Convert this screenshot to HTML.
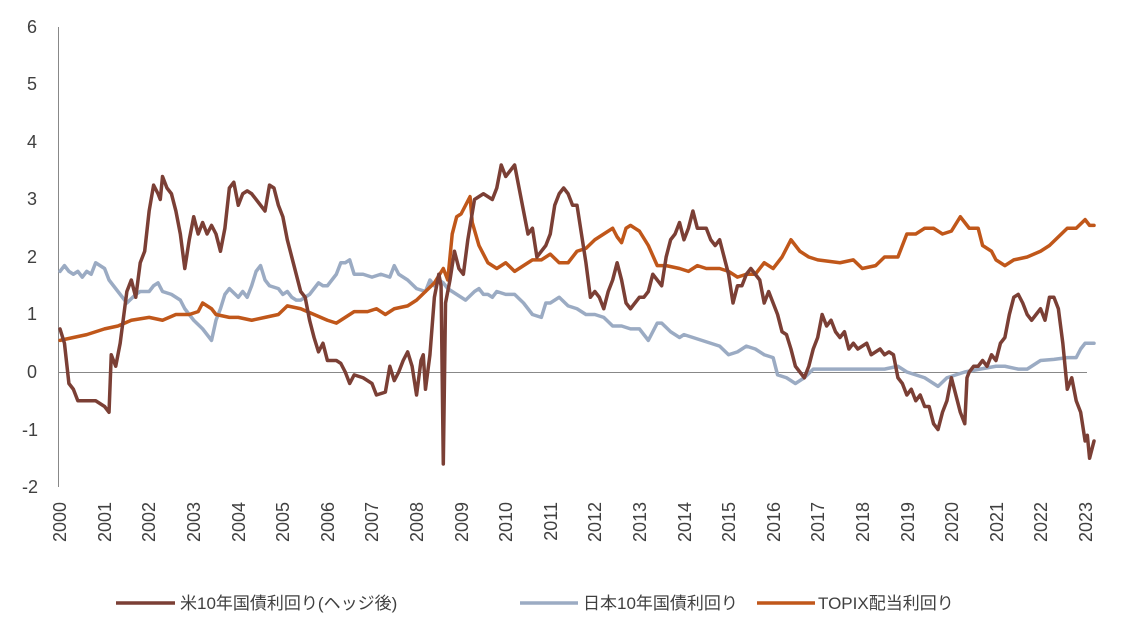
<!DOCTYPE html>
<html><head><meta charset="utf-8"><style>
html,body{margin:0;padding:0;background:#fff;}
svg{display:block;font-family:"Liberation Sans","Noto Sans CJK JP",sans-serif;}
</style></head><body>
<svg width="1123" height="627" viewBox="0 0 1123 627" xmlns="http://www.w3.org/2000/svg">
<g fill="#404040" font-size="18" text-anchor="middle">
<text x="32" y="33">6</text><text x="32" y="90">5</text><text x="32" y="148">4</text>
<text x="32" y="205">3</text><text x="32" y="263">2</text><text x="32" y="320">1</text>
<text x="32" y="378">0</text><text x="30" y="436">-1</text><text x="30" y="493">-2</text>
</g>
<line x1="58.5" y1="27" x2="58.5" y2="487" stroke="#888" stroke-width="1"/>
<line x1="58" y1="372.5" x2="1087" y2="372.5" stroke="#888" stroke-width="1"/>
<g transform="translate(60,372) scale(44.57,-57.5)" fill="none" stroke-linejoin="round" stroke-linecap="round">
<polyline vector-effect="non-scaling-stroke" stroke="#9BABC3" stroke-width="3.5" points="0 1.75,0.1 1.85,0.2 1.75,0.3 1.7,0.4 1.75,0.5 1.65,0.6 1.75,0.7 1.7,0.8 1.9,1.0 1.8,1.1 1.6,1.2 1.5,1.3 1.4,1.4 1.3,1.5 1.2,1.7 1.35,1.8 1.4,1.9 1.4,2.0 1.4,2.1 1.5,2.2 1.55,2.3 1.4,2.5 1.35,2.6 1.3,2.7 1.25,2.8 1.1,3.0 0.9,3.2 0.75,3.3 0.65,3.4 0.55,3.5 0.9,3.6 1.1,3.7 1.35,3.8 1.45,4.0 1.3,4.1 1.4,4.2 1.3,4.3 1.5,4.4 1.75,4.5 1.85,4.6 1.6,4.7 1.5,4.9 1.45,5.0 1.35,5.1 1.4,5.2 1.3,5.3 1.25,5.4 1.25,5.5 1.3,5.6 1.35,5.7 1.45,5.8 1.55,5.9 1.5,6.0 1.5,6.2 1.7,6.3 1.9,6.4 1.9,6.5 1.95,6.6 1.7,6.8 1.7,7.0 1.65,7.2 1.7,7.4 1.65,7.5 1.85,7.6 1.7,7.8 1.6,8.0 1.45,8.2 1.4,8.3 1.6,8.4 1.5,8.5 1.6,8.6 1.55,8.7 1.45,8.9 1.35,9.0 1.3,9.1 1.25,9.3 1.4,9.4 1.45,9.5 1.35,9.6 1.35,9.7 1.3,9.8 1.4,10.0 1.35,10.2 1.35,10.4 1.2,10.6 1.0,10.8 0.95,10.9 1.2,11.0 1.2,11.2 1.3,11.4 1.15,11.6 1.1,11.8 1.0,12.0 1.0,12.2 0.95,12.4 0.8,12.6 0.8,12.8 0.75,13.0 0.75,13.2 0.55,13.4 0.85,13.5 0.85,13.7 0.7,13.9 0.6,14.0 0.65,14.2 0.6,14.4 0.55,14.6 0.5,14.8 0.45,15.0 0.3,15.2 0.35,15.4 0.45,15.6 0.4,15.8 0.3,16.0 0.25,16.1 -0.05,16.3 -0.1,16.5 -0.2,16.7 -0.1,16.9 0.05,17.2 0.05,17.5 0.05,18.0 0.05,18.5 0.05,18.8 0.1,19.0 0.0,19.2 -0.05,19.4 -0.1,19.6 -0.2,19.7 -0.25,19.9 -0.1,20.1 -0.05,20.3 0.0,20.5 0.03,21.0 0.1,21.2 0.1,21.5 0.05,21.7 0.05,22.0 0.2,22.3 0.22,22.6 0.25,22.8 0.25,22.9 0.4,23.0 0.5,23.2 0.5"/>
<polyline vector-effect="non-scaling-stroke" stroke="#C0571A" stroke-width="3.5" points="0 0.55,0.3 0.6,0.6 0.65,1.0 0.75,1.3 0.8,1.6 0.9,2.0 0.95,2.3 0.9,2.6 1.0,2.9 1.0,3.1 1.05,3.2 1.2,3.4 1.1,3.5 1.0,3.8 0.95,4.0 0.95,4.3 0.9,4.6 0.95,4.9 1.0,5.1 1.15,5.4 1.1,5.7 1.0,6.0 0.9,6.2 0.85,6.4 0.95,6.6 1.05,6.9 1.05,7.1 1.1,7.3 1.0,7.5 1.1,7.8 1.15,8.0 1.25,8.2 1.4,8.4 1.55,8.6 1.8,8.7 1.6,8.8 2.4,8.9 2.7,9.0 2.75,9.1 2.9,9.2 3.05,9.25 2.6,9.4 2.2,9.6 1.9,9.8 1.8,10.0 1.9,10.2 1.75,10.4 1.85,10.6 1.95,10.8 1.95,11.0 2.05,11.2 1.9,11.4 1.9,11.6 2.1,11.8 2.15,12.0 2.3,12.2 2.4,12.4 2.5,12.5 2.35,12.6 2.25,12.7 2.5,12.8 2.55,13.0 2.45,13.2 2.2,13.4 1.85,13.6 1.85,13.9 1.8,14.1 1.75,14.3 1.85,14.5 1.8,14.8 1.8,15.0 1.75,15.2 1.65,15.4 1.7,15.6 1.7,15.8 1.9,16.0 1.8,16.2 2.0,16.4 2.3,16.6 2.1,16.8 2.0,17.0 1.95,17.5 1.9,17.8 1.95,18.0 1.8,18.3 1.85,18.5 2.0,18.8 2.0,19.0 2.4,19.2 2.4,19.4 2.5,19.6 2.5,19.8 2.4,20.0 2.45,20.2 2.7,20.4 2.5,20.6 2.5,20.7 2.2,20.9 2.1,21.0 1.95,21.2 1.85,21.4 1.95,21.7 2.0,22.0 2.1,22.2 2.2,22.4 2.35,22.6 2.5,22.8 2.5,23.0 2.65,23.1 2.55,23.2 2.55"/>
<polyline vector-effect="non-scaling-stroke" stroke="#7B3F35" stroke-width="3.5" points="0 0.75,0.1 0.5,0.2 -0.2,0.3 -0.3,0.4 -0.5,0.6 -0.5,0.8 -0.5,1.0 -0.6,1.1 -0.7,1.15 0.3,1.25 0.1,1.35 0.5,1.5 1.4,1.6 1.6,1.7 1.3,1.8 1.9,1.9 2.1,2.0 2.8,2.1 3.25,2.2 3.1,2.25 3.0,2.3 3.4,2.4 3.2,2.5 3.1,2.6 2.8,2.7 2.4,2.8 1.8,2.9 2.3,3.0 2.7,3.1 2.4,3.2 2.6,3.3 2.4,3.4 2.55,3.5 2.4,3.6 2.1,3.7 2.5,3.8 3.2,3.9 3.3,4.0 2.9,4.1 3.1,4.2 3.15,4.3 3.1,4.5 2.9,4.6 2.8,4.7 3.25,4.8 3.2,4.9 2.9,5.0 2.7,5.1 2.3,5.2 2.0,5.3 1.7,5.4 1.4,5.5 1.3,5.6 0.9,5.7 0.6,5.8 0.35,5.9 0.5,6.0 0.2,6.2 0.2,6.3 0.15,6.4 0.0,6.5 -0.2,6.6 -0.05,6.8 -0.1,7.0 -0.2,7.1 -0.4,7.3 -0.35,7.4 0.1,7.5 -0.15,7.6 0.0,7.7 0.2,7.8 0.35,7.9 0.1,8.0 -0.4,8.1 0.2,8.15 0.3,8.2 -0.3,8.3 0.3,8.4 1.3,8.5 1.7,8.55 1.5,8.6 -1.6,8.65 1.2,8.75 1.6,8.85 2.1,8.95 1.8,9.05 1.7,9.15 2.3,9.3 3.0,9.5 3.1,9.7 3.0,9.8 3.2,9.9 3.6,10.0 3.4,10.1 3.5,10.2 3.6,10.3 3.2,10.4 2.8,10.5 2.4,10.6 2.5,10.7 2.0,10.9 2.2,11.0 2.4,11.1 2.9,11.2 3.1,11.3 3.2,11.4 3.1,11.5 2.9,11.6 2.9,11.7 2.4,11.8 1.9,11.9 1.3,12.0 1.4,12.1 1.3,12.2 1.1,12.3 1.4,12.4 1.6,12.5 1.9,12.6 1.6,12.7 1.2,12.8 1.1,12.9 1.2,13.0 1.3,13.1 1.3,13.2 1.4,13.3 1.7,13.4 1.6,13.5 1.5,13.6 2.0,13.7 2.3,13.8 2.4,13.9 2.6,14.0 2.3,14.1 2.5,14.2 2.8,14.3 2.5,14.5 2.5,14.6 2.3,14.7 2.2,14.8 2.3,14.9 2.0,15.0 1.7,15.1 1.2,15.2 1.5,15.3 1.5,15.4 1.7,15.5 1.8,15.6 1.7,15.7 1.6,15.8 1.2,15.9 1.4,16.0 1.2,16.1 1.0,16.2 0.7,16.3 0.65,16.4 0.4,16.5 0.1,16.6 0.0,16.7 -0.1,16.8 0.1,16.9 0.4,17.0 0.6,17.1 1.0,17.2 0.8,17.3 0.9,17.4 0.7,17.5 0.6,17.6 0.7,17.7 0.4,17.8 0.5,17.9 0.4,18.0 0.45,18.1 0.5,18.2 0.3,18.3 0.35,18.4 0.4,18.5 0.3,18.6 0.35,18.7 0.3,18.8 -0.1,18.9 -0.2,19.0 -0.4,19.1 -0.3,19.2 -0.5,19.3 -0.4,19.4 -0.6,19.5 -0.6,19.6 -0.9,19.7 -1.0,19.8 -0.7,19.9 -0.5,20.0 -0.1,20.1 -0.4,20.2 -0.7,20.3 -0.9,20.35 -0.1,20.4 0.0,20.5 0.1,20.6 0.1,20.7 0.2,20.8 0.1,20.9 0.3,21.0 0.2,21.1 0.5,21.2 0.6,21.3 1.0,21.4 1.3,21.5 1.35,21.6 1.2,21.7 1.0,21.8 0.9,21.9 1.0,22.0 1.1,22.1 0.9,22.2 1.3,22.3 1.3,22.4 1.1,22.5 0.5,22.6 -0.3,22.7 -0.1,22.8 -0.5,22.9 -0.7,23.0 -1.2,23.05 -1.1,23.1 -1.5,23.2 -1.2"/>
</g>
<g fill="#404040" font-size="18" text-anchor="end">
<text transform="translate(66,502) rotate(-90)">2000</text>
<text transform="translate(111,502) rotate(-90)">2001</text>
<text transform="translate(155,502) rotate(-90)">2002</text>
<text transform="translate(200,502) rotate(-90)">2003</text>
<text transform="translate(245,502) rotate(-90)">2004</text>
<text transform="translate(289,502) rotate(-90)">2005</text>
<text transform="translate(334,502) rotate(-90)">2006</text>
<text transform="translate(378,502) rotate(-90)">2007</text>
<text transform="translate(423,502) rotate(-90)">2008</text>
<text transform="translate(468,502) rotate(-90)">2009</text>
<text transform="translate(512,502) rotate(-90)">2010</text>
<text transform="translate(557,502) rotate(-90)">2011</text>
<text transform="translate(601,502) rotate(-90)">2012</text>
<text transform="translate(646,502) rotate(-90)">2013</text>
<text transform="translate(691,502) rotate(-90)">2014</text>
<text transform="translate(735,502) rotate(-90)">2015</text>
<text transform="translate(780,502) rotate(-90)">2016</text>
<text transform="translate(824,502) rotate(-90)">2017</text>
<text transform="translate(869,502) rotate(-90)">2018</text>
<text transform="translate(914,502) rotate(-90)">2019</text>
<text transform="translate(958,502) rotate(-90)">2020</text>
<text transform="translate(1003,502) rotate(-90)">2021</text>
<text transform="translate(1047,502) rotate(-90)">2022</text>
<text transform="translate(1092,502) rotate(-90)">2023</text>
</g>
<g font-size="17" fill="#404040">
<line x1="116" y1="603" x2="175" y2="603" stroke="#7B3F35" stroke-width="3.5"/>
<text x="180" y="609">米10年国債利回り(ヘッジ後)</text>
<line x1="520" y1="603" x2="578" y2="603" stroke="#9BABC3" stroke-width="3.5"/>
<text x="583" y="609">日本10年国債利回り</text>
<line x1="757" y1="603" x2="815" y2="603" stroke="#C0571A" stroke-width="3.5"/>
<text x="818" y="609">TOPIX配当利回り</text>
</g>
</svg>
</body></html>
